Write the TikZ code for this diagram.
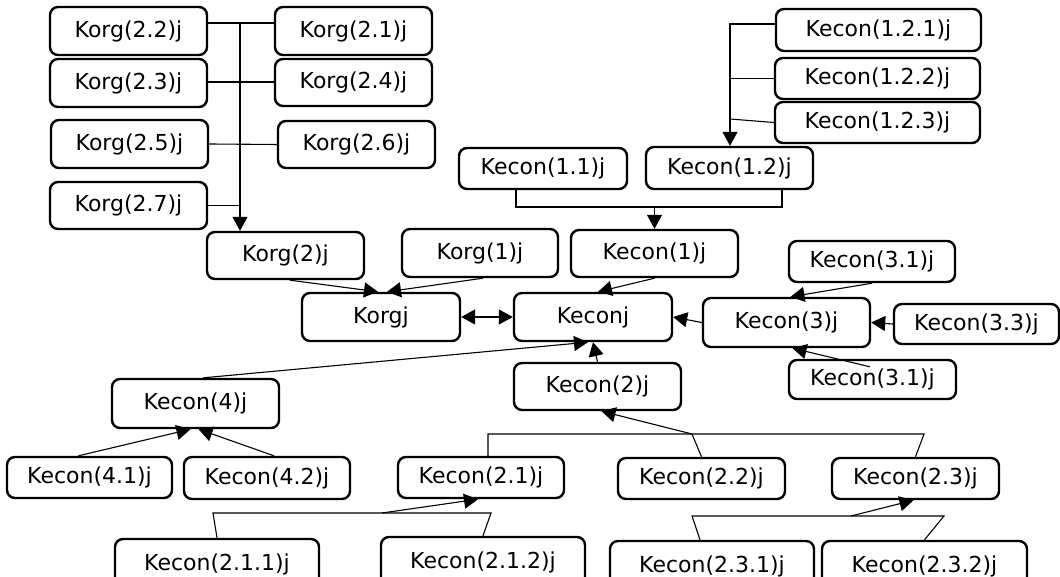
\documentclass[tikz,border=0pt]{standalone}
\usepackage{fontspec}
\setmainfont{DejaVu Sans}
\usetikzlibrary{arrows.meta,calc}
\begin{document}
\begin{tikzpicture}[x=1pt,y=-1pt,
  bx/.style={draw, line width=2.4pt, rounded corners=8pt, fill=white,
    font=\fontsize{22}{26}\selectfont, inner sep=0pt},
  sz/.style 2 args={minimum width=#1pt, minimum height=#2pt},
  cn/.style={line width=1.1pt},
  arr/.style={cn, -{Triangle[length=14pt,width=15pt]}},
  darr/.style={cn, {Triangle[length=14pt,width=15pt]}-{Triangle[length=14pt,width=15pt]}}]
\useasboundingbox (0,0) rectangle (1060,577);
\clip (0,0) rectangle (1060,577);

% Korg group
\node[bx, sz={157}{48}] (k22) at (128.5,31) {Korg(2.2)j};
\node[bx, sz={157}{48}] (k21) at (353.5,31) {Korg(2.1)j};
\node[bx, sz={157}{48}] (k23) at (128.5,83) {Korg(2.3)j};
\node[bx, sz={157}{47}] (k24) at (353.5,82.5) {Korg(2.4)j};
\node[bx, sz={157}{48}] (k25) at (129.5,144) {Korg(2.5)j};
\node[bx, sz={157}{47}] (k26) at (356.5,144.5) {Korg(2.6)j};
\node[bx, sz={157}{47}] (k27) at (128.5,205.5) {Korg(2.7)j};
\node[bx, sz={157}{47}] (k2) at (285.5,255.5) {Korg(2)j};
\node[bx, sz={156}{48}] (k1) at (480,253) {Korg(1)j};
\node[bx, sz={158}{48}] (kg) at (381,317) {Korgj};
\node[bx, sz={158}{48}] (kc) at (593,317) {Keconj};

% Kecon(1) group
\node[bx, sz={167}{47}] (e1) at (654.5,253.5) {Kecon(1)j};
\node[bx, sz={168}{41}] (e11) at (543,168.5) {Kecon(1.1)j};
\node[bx, sz={167}{42}] (e12) at (729.5,168) {Kecon(1.2)j};
\node[bx, sz={205}{42}] (e121) at (878.5,30) {Kecon(1.2.1)j};
\node[bx, sz={205}{41}] (e122) at (877.5,78.5) {Kecon(1.2.2)j};
\node[bx, sz={205}{41}] (e123) at (877.5,122.5) {Kecon(1.2.3)j};

% Kecon(3) group
\node[bx, sz={167}{49}] (e3) at (786.5,322.5) {Kecon(3)j};
\node[bx, sz={166}{41}] (e31a) at (872,261.5) {Kecon(3.1)j};
\node[bx, sz={165}{40}] (e33) at (976.5,324) {Kecon(3.3)j};
\node[bx, sz={167}{39}] (e31b) at (872.5,379.5) {Kecon(3.1)j};

% Kecon(2) and Kecon(4) groups
\node[bx, sz={167}{47}] (e2) at (597.5,386.5) {Kecon(2)j};
\node[bx, sz={167}{49}] (e4) at (195.5,403.5) {Kecon(4)j};
\node[bx, sz={165}{41}] (e41) at (89.5,477.5) {Kecon(4.1)j};
\node[bx, sz={166}{42}] (e42) at (267,478) {Kecon(4.2)j};
\node[bx, sz={166}{41}] (e21) at (481,477.5) {Kecon(2.1)j};
\node[bx, sz={167}{41}] (e22) at (701.5,478.5) {Kecon(2.2)j};
\node[bx, sz={167}{41}] (e23) at (915.5,478.5) {Kecon(2.3)j};
\node[bx, sz={204}{50}] (e211) at (217,564) {Kecon(2.1.1)j};
\node[bx, sz={204}{50}] (e212) at (483,562) {Kecon(2.1.2)j};
\node[bx, sz={204}{50}] (e231) at (712,566) {Kecon(2.3.1)j};
\node[bx, sz={205}{50}] (e232) at (924.5,566) {Kecon(2.3.2)j};

% Korg(2) tree
\coordinate (tt) at (240,23);
\coordinate (t24) at (240,82);
\draw[cn] (k22.east |- tt) -- (k21.west |- tt);
\draw[cn] (k23.east |- t24) -- (k24.west |- t24);
\draw[cn] (k25.east) -- (k26.west);
\draw[cn] (k27.east) -- (tt |- k27.east);
\draw[arr] (tt) -- (tt |- k2.north);

% Kecon(1.2) tree
\coordinate (u) at (730,24);
\coordinate (u3) at (730,119);
\draw[arr] (e121.west |- u) -- (u) -- (u |- e12.north);
\draw[cn] (e122.west) -- (u |- e122.west);
\draw[cn] (e123.west) -- (u3);

% Kecon(1) bracket
\coordinate (b1) at (516,207);
\coordinate (b2) at (782,207);
\draw[cn] (e11.south -| b1) -- (b1) -- (b2) -- (e12.south -| b2);
\draw[arr] (e1.north |- b1) -- (e1.north);

% into Korgj / Keconj
\draw[arr] ([xshift=4.5pt]k2.south) -- ([xshift=-3pt]kg.north);
\draw[arr] ([xshift=3pt]k1.south) -- ([xshift=6pt]kg.north);
\draw[darr] (kg.east) -- (kc.west);
\draw[arr] (e1.south) -- ([xshift=5pt]kc.north);
\draw[arr] (e3.west) -- (kc.east);
\draw[arr] (e2.north) -- (kc.south);
\draw[arr] ([xshift=8pt]e4.north) -- ([xshift=-5pt]kc.south);

% Kecon(3) tree
\draw[arr] (e31a.south) -- ([xshift=4pt]e3.north);
\draw[arr] (e33.west) -- (e3.east);
\draw[arr] ([xshift=-2.5pt,yshift=-8pt]e31b.north) -- ([xshift=6pt]e3.south);

% Kecon(4) tree
\draw[arr] ([xshift=-11pt]e41.north) -- ([xshift=-5pt]e4.south);
\draw[arr] ([xshift=7pt]e42.north) -- ([xshift=3pt]e4.south);

% Kecon(2) bracket
\coordinate (c2l) at (488,434);
\coordinate (c2r) at (924,434);
\coordinate (c2m) at (692,434);
\draw[cn] (e21.north -| c2l) -- (c2l) -- (c2r) -- (e23.north);
\draw[cn] (e22.north) -- (c2m);
\draw[arr] (c2m) -- ([xshift=4pt]e2.south);

% Kecon(2.1) bracket
\coordinate (c21l) at (213,513);
\coordinate (c21r) at (491,513);
\coordinate (c21a) at (382,513);
\draw[cn] (e211.north) -- (c21l) -- (c21r) -- (e212.north);
\draw[arr] (c21a) -- ([xshift=-3pt]e21.south);

% Kecon(2.3) bracket
\coordinate (c23l) at (692,516);
\coordinate (c23r) at (944,516);
\coordinate (c23a) at (851,516);
\draw[cn] ([xshift=-12pt]e231.north) -- (c23l) -- (c23r) -- (e232.north);
\draw[arr] (c23a) -- ([xshift=-2pt]e23.south);
\end{tikzpicture}
\end{document}
